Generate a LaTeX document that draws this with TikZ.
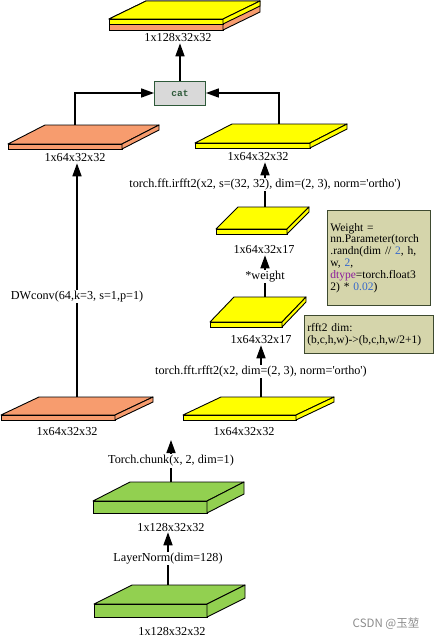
\documentclass[tikz,border=0pt]{standalone}
\usepackage{fontspec}
\setmainfont{Liberation Serif}[Ligatures=TeXOff]
\newfontfamily\cjk{Noto Sans CJK SC}
\newfontfamily\catfont{Liberation Mono}
\usetikzlibrary{arrows.meta}
\definecolor{slabyellow}{HTML}{FFFF00}
\definecolor{slaborange}{HTML}{F79C6E}
\definecolor{slabgreen}{HTML}{92D050}
\definecolor{notefill}{HTML}{D5D5AB}
\definecolor{noteline}{HTML}{3E4A30}
\definecolor{catfill}{HTML}{D9D9D9}
\definecolor{catline}{HTML}{2E5A3A}
\definecolor{numblue}{HTML}{3366CC}
\definecolor{kwpurple}{HTML}{8B1A9B}
% slab: fill, front left x, front right x, depth shift, back top y, front top y, bottom y
\newcommand\slab[7]{%
  \filldraw[fill=#1, line width=0.9pt, line join=round] (#2,#6) -- (#3,#6) -- (#3+#4,#5) -- (#2+#4,#5) -- cycle;
  \filldraw[fill=#1, line width=0.9pt] (#2,#6) rectangle (#3,#7);
  \filldraw[fill=#1, line width=0.9pt, line join=round] (#3,#6) -- (#3+#4,#5) -- (#3+#4,#5+#7-#6) -- (#3,#7) -- cycle;
}
\begin{document}
\begin{tikzpicture}[x=1pt,y=-1pt,
  every node/.style={font=\fontsize{12.2}{14}\selectfont},
  size/.style={inner sep=1pt},
  flow/.style={line width=1.6pt, -{Triangle[length=13pt,width=9pt]}},
  op/.style={fill=white, inner sep=1pt},
  note/.style={draw=noteline, line width=0.8pt, fill=notefill, anchor=north west, align=left,
    inner sep=3pt, font=\fontsize{11.5}{11.8}\selectfont}]
\fill[white] (0,0) rectangle (437,640);
\useasboundingbox (0,0) rectangle (437,640);

\slab{slaborange}{109}{223}{37}{1}{19}{30}
\slab{slabyellow}{109}{223}{37}{1}{19}{24}
\slab{slaborange}{8}{122}{37}{125}{144}{149}
\slab{slabyellow}{195}{310}{37}{124}{143}{148}
\slab{slabyellow}{216}{287}{22}{207}{229}{234}
\slab{slabyellow}{210}{282}{24}{297}{322}{327}
\slab{slabyellow}{183}{296}{38}{397}{415}{420}
\slab{slaborange}{1}{115}{38}{397}{415}{420}
\slab{slabgreen}{93}{207}{37}{482}{501}{513}
\slab{slabgreen}{94}{207}{38}{585}{604}{617}

\node[size](outlab) at (178,38) {1x128x32x32};
\node[size](dwlab) at (75,158) {1x64x32x32};
\node[size](xflab) at (258,157) {1x64x32x32};
\node[size](wlab) at (264,250) {1x64x32x17};
\node[size](rlab) at (261,340) {1x64x32x17};
\node[size](x2lab) at (244,432) {1x64x32x32};
\node[size](x1lab) at (67,432) {1x64x32x32};
\node[size](chlab) at (171,527) {1x128x32x32};
\node[size](inlab) at (172,631) {1x128x32x32};

\node[draw=catline, line width=0.8pt, fill=catfill, minimum width=51pt, minimum height=24pt,
  text=catline, font=\fontsize{9.5}{10}\catfont\bfseries](cat) at (180,93) {cat};

\coordinate (ltop) at (75,125);
\coordinate (rtop) at (279,124);
\coordinate (wtop) at (265,207);
\coordinate (rftop) at (265,297);
\coordinate (x2top) at (261,397);
\coordinate (x1top) at (77,397);
\coordinate (chtop) at (171,482);
\coordinate (split) at (171,440);
\coordinate (intop) at (168,585);

\draw[flow] (cat.north) -- (cat.north |- outlab.south);
\draw[flow] (ltop) |- (cat.west);
\draw[flow] (rtop) |- (cat.east);
\draw[flow] (wtop) -- node[op]{torch.fft.irfft2(x2, s=(32, 32), dim=(2, 3), norm='ortho')} (wtop |- xflab.south);
\draw[flow] (rftop) -- node[op]{*weight} (rftop |- wlab.south);
\draw[flow] (x2top) -- node[op]{torch.fft.rfft2(x2, dim=(2, 3), norm='ortho')} (x2top |- rlab.south);
\draw[flow] (x1top) -- node[op, pos=0.43]{DWconv(64,k=3, s=1,p=1)} (x1top |- dwlab.south);
\draw[flow] (chtop) -- node[op]{Torch.chunk(x, 2, dim=1)} (split);
\draw[flow] (intop) -- node[op]{LayerNorm(dim=128)} (intop |- chlab.south);

\node[note, minimum width=103pt, minimum height=95pt, text width=97pt](wnote) at (327,210)
  {Weight =\\nn.Parameter(torch\\.randn(dim // {\color{numblue}2}, h,\\w, {\color{numblue}2},\\{\color{kwpurple}dtype}=torch.float3\\2) * {\color{numblue}0.02})};
\node[note, minimum width=129pt, minimum height=38pt, text width=123pt](rnote) at (304,315)
  {rfft2 dim:\\(b,c,h,w)->(b,c,h,w/2+1)};

\node[text=black!45, font=\fontsize{11.5}{13}\cjk](mark) at (386,624) {CSDN @玉堃};
\end{tikzpicture}
\end{document}
